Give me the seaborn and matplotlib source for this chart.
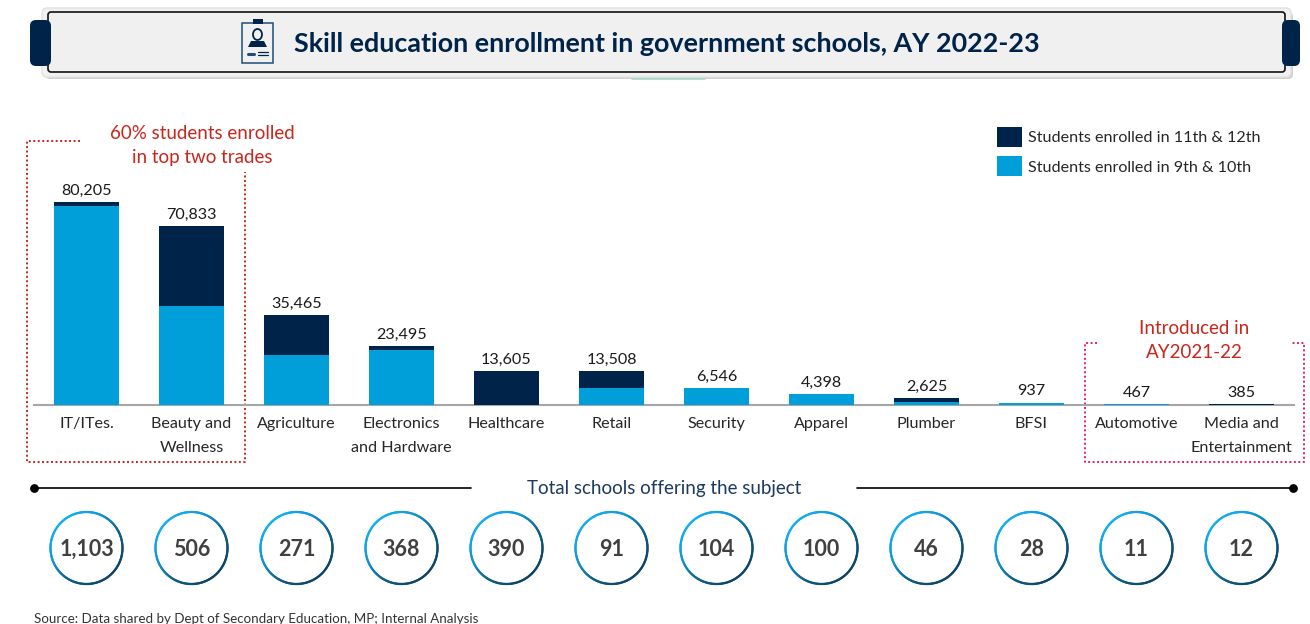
import numpy as np
import matplotlib
matplotlib.use('Agg')
import matplotlib.pyplot as plt
import seaborn as sns
from matplotlib.collections import LineCollection
from matplotlib.colors import LinearSegmentedColormap
from matplotlib.patches import FancyBboxPatch, Rectangle, Ellipse, Polygon

trades = ['IT/ITes.', 'Beauty and\nWellness', 'Agriculture', 'Electronics\nand Hardware', 'Healthcare', 'Retail',
          'Security', 'Apparel', 'Plumber', 'BFSI', 'Automotive', 'Media and\nEntertainment']
class_9_10 = [78800, 39200, 19800, 21700, 0, 6700, 6546, 4398, 1100, 937, 467, 0]
class_11_12 = [1405, 31633, 15665, 1795, 13605, 6808, 0, 0, 1525, 0, 0, 385]
totals = [80205, 70833, 35465, 23495, 13605, 13508, 6546, 4398, 2625, 937, 467, 385]
schools = [1103, 506, 271, 368, 390, 91, 104, 100, 46, 28, 11, 12]

NAVY = '#00234A'
BLUE = '#009FDA'
RED = '#C9261C'
PINK = '#E5245A'
W, H = 1310, 624
FS = 11.65

sns.set_theme(style='white')
plt.rcParams['font.family'] = ['Lato', 'DejaVu Sans']

fig = plt.figure(figsize=(W / 100, H / 100), dpi=100)

# overlay in pixel coordinates for the banner and the notes
bg = fig.add_axes([0, 0, 1, 1])
bg.set_xlim(0, W)
bg.set_ylim(H, 0)
bg.axis('off')

# bars
ax = fig.add_axes([34 / W, (H - 405) / H, 1260 / W, 285 / H])
sns.barplot(x=trades, y=class_9_10, color=BLUE, saturation=1, width=0.625, linewidth=0, ax=ax,
            label='Students enrolled in 9th & 10th')
sns.barplot(x=trades, y=class_11_12, bottom=class_9_10, color=NAVY, saturation=1, width=0.625, linewidth=0, ax=ax,
            label='Students enrolled in 11th & 12th')
ax.set_xlim(-0.5, 11.5)
ax.set_ylim(0, 285 * 396)
ax.patch.set_alpha(0)
ax.set_yticks([])
ax.set_ylabel('')
sns.despine(ax=ax, left=True)
ax.spines['bottom'].set_color('#A6A6A6')
ax.spines['bottom'].set_linewidth(1.5)
ax.spines['bottom'].set_zorder(0.5)
ax.tick_params(axis='x', length=0, pad=8.6)
for lab in ax.get_xticklabels():
    lab.set_fontsize(FS)
    lab.set_color('#262626')
    lab.set_linespacing(1.95)
for i, v in enumerate(totals):
    ax.annotate(f'{v:,}', (i, v), xytext=(0, 3), textcoords='offset points', ha='center', va='bottom',
                fontsize=FS, color='#1A1A1A')

handles, labels = ax.get_legend_handles_labels()
ax.legend(handles[::-1], labels[::-1], loc='upper left', bbox_to_anchor=(997 / W, (H - 127) / H),
          bbox_transform=fig.transFigure, frameon=False, fontsize=FS, borderpad=0, borderaxespad=0,
          handlelength=1.545, handleheight=1.52, handletextpad=0.4, labelspacing=0.58, labelcolor='#262626')

# banner
bg.add_patch(FancyBboxPatch((45, 12), 1248, 67, boxstyle='round,pad=0,rounding_size=5', fc='#CFCFCF', ec='none'))
bg.add_patch(FancyBboxPatch((42, 8), 1249, 69, boxstyle='round,pad=0,rounding_size=5', fc='#F0F0F0', ec='#E2E2E2', lw=1))
bg.add_patch(FancyBboxPatch((48, 12), 1237, 60, boxstyle='round,pad=0,rounding_size=3', fc='none', ec='#111111', lw=1.2))
bg.add_patch(FancyBboxPatch((30, 20), 21, 46, boxstyle='round,pad=0,rounding_size=6', fc=NAVY, ec='none', zorder=3))
bg.add_patch(FancyBboxPatch((1282, 20), 18, 46, boxstyle='round,pad=0,rounding_size=6', fc=NAVY, ec='none', zorder=3))
bg.plot([632, 705], [78.5, 78.5], color='#A5D9C9', lw=1.2)
bg.text(666.5, 44, 'Skill education enrollment in government schools, AY 2022-23', ha='center', va='center',
        fontsize=19.35, fontweight='bold', color=NAVY)

# clipboard icon
bg.add_patch(Rectangle((242, 23), 31, 40, fc='#F0F0F0', ec='#1F4E79', lw=1.1))
bg.add_patch(Rectangle((253, 19), 10, 5, fc=NAVY, ec='none'))
bg.add_patch(Ellipse((257.5, 34.5), 9, 11, fc='#F0F0F0', ec=NAVY, lw=1.3))
bg.add_patch(Polygon([[248, 47], [251, 41], [264, 41], [267, 47]], fc=NAVY, ec='none'))
bg.plot([248, 254], [53.5, 53.5], color='#1F4E79', lw=2.2)
bg.plot([257.5, 268], [51.5, 51.5], color=NAVY, lw=0.9)
bg.plot([257.5, 268], [55, 55], color=NAVY, lw=0.9)

# dotted call-outs
dots = (0, (1, 1.3))
bg.plot([80, 27, 27, 245, 245], [141, 141, 462, 462, 172], color=RED, lw=1.4, ls=dots)
bg.plot([1097, 1085, 1085, 1304, 1304, 1291], [343, 343, 462, 462, 343, 343], color=PINK, lw=1.4, ls=dots)
bg.text(202.5, 145.5, '60% students enrolled\nin top two trades', ha='center', va='center', fontsize=13.5,
        color=RED, linespacing=1.45)
bg.text(1194, 340.5, 'Introduced in\nAY2021-22', ha='center', va='center', fontsize=13.5, color=RED, linespacing=1.45)

# schools strip
bg.plot([34, 471], [488, 488], color='black', lw=1.2)
bg.plot([857, 1293], [488, 488], color='black', lw=1.2)
bg.scatter([34, 1293], [488, 488], s=28, color='black')
bg.text(664, 488.5, 'Total schools offering the subject', ha='center', va='center', fontsize=13.5, color='#1C3A5E')

ax2 = fig.add_axes([34 / W, (H - 591) / H, 1260 / W, 86 / H])
ax2.set_xlim(-0.5, 11.5)
ax2.set_ylim(-43, 43)
ax2.axis('off')
ring = LinearSegmentedColormap.from_list('ring', ['#12AEEF', '#1291CF', '#0E5C86', '#0B4468'])
theta = np.linspace(0, 2 * np.pi, 181)
r = 36.0
for i, n in enumerate(schools):
    xs = i + r * np.cos(theta) / 105
    ys = r * np.sin(theta)
    segs = np.stack([np.column_stack([xs[:-1], ys[:-1]]), np.column_stack([xs[1:], ys[1:]])], axis=1)
    mid = (theta[:-1] + theta[1:]) / 2
    # light at the upper left, dark at the lower right
    shade = (np.cos(mid) - np.sin(mid)) / (2 * np.sqrt(2)) + 0.5
    lc = LineCollection(segs, cmap=ring, array=shade, linewidth=1.6, capstyle='round')
    ax2.add_collection(lc)
    ax2.text(i, -1, f'{n:,}', ha='center', va='center', fontsize=15.5, fontweight='bold', color='#404040')

bg.text(34, 619, 'Source: Data shared by Dept of Secondary Education, MP; Internal Analysis', ha='left', va='center',
        fontsize=9.63, color='#333333')

fig.savefig('out.png', dpi=100)
